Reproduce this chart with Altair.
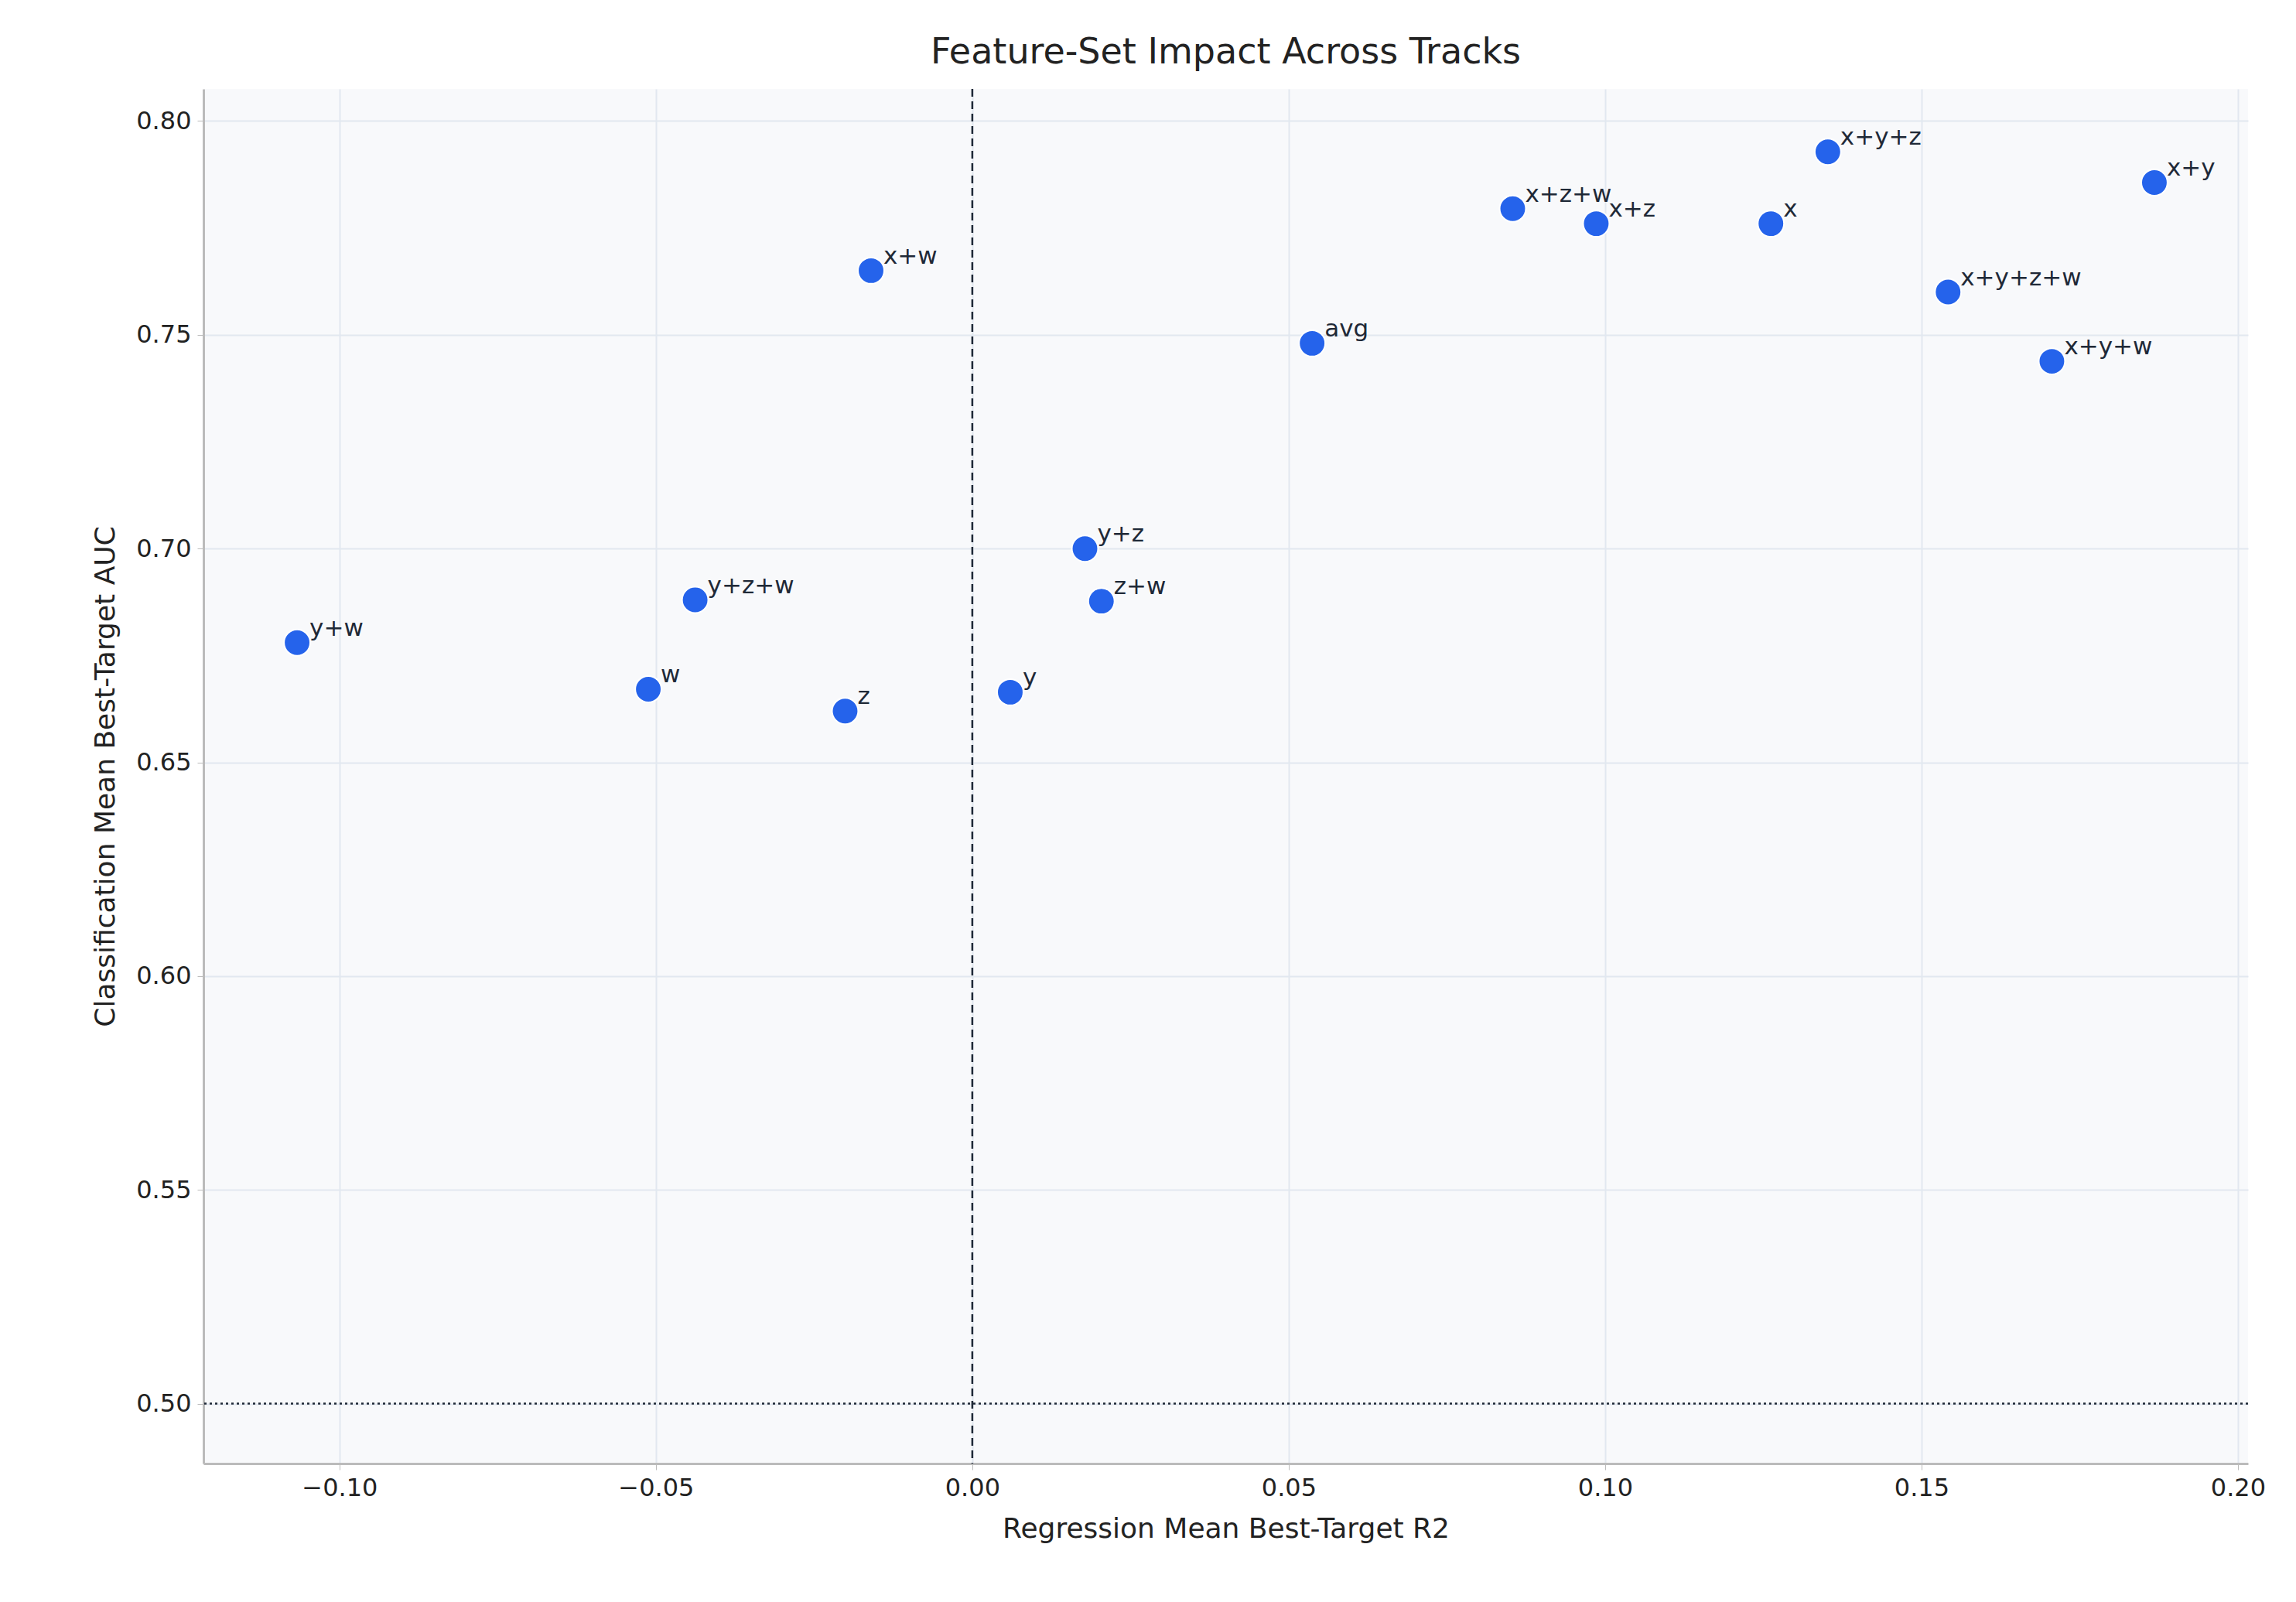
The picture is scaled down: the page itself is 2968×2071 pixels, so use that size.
import altair as alt
import pandas as pd

labels = ["x+y+z", "x+y", "x+z+w", "x+z", "x", "x+w", "x+y+z+w", "avg", "x+y+w",
          "y+z", "y+z+w", "z+w", "y+w", "w", "y", "z"]
reg_r2 = [0.1352, 0.1868, 0.0854, 0.0986, 0.1262, -0.0160, 0.1542, 0.0537, 0.1706,
          0.0178, -0.0438, 0.0204, -0.1067, -0.0512, 0.0060, -0.0201]
cls_auc = [0.7928, 0.7856, 0.7795, 0.7760, 0.7760, 0.7650, 0.7600, 0.7480, 0.7438,
           0.7000, 0.6880, 0.6877, 0.6780, 0.6671, 0.6664, 0.6620]
x_ticks = [-0.10, -0.05, 0.00, 0.05, 0.10, 0.15, 0.20]
y_ticks = [0.50, 0.55, 0.60, 0.65, 0.70, 0.75, 0.80]

df = pd.DataFrame({"label": labels, "r2": reg_r2, "auc": cls_auc})

FONT = "DejaVu Sans"
INK = "#1f2937"

x_enc = alt.X(
    "r2:Q",
    title="Regression Mean Best-Target R2",
    scale=alt.Scale(domain=[-0.1215, 0.2016], nice=False, zero=False),
    axis=alt.Axis(values=x_ticks, format=".2f"),
)
y_enc = alt.Y(
    "auc:Q",
    title="Classification Mean Best-Target AUC",
    scale=alt.Scale(domain=[0.486, 0.8075], nice=False, zero=False),
    axis=alt.Axis(values=y_ticks, format=".2f"),
)

base = alt.Chart(df)
points = base.mark_point(filled=True, size=1150, color="#2563eb", opacity=1,
                         stroke="white", strokeWidth=2).encode(x=x_enc, y=y_enc)
texts = base.mark_text(align="left", baseline="bottom", dx=16, dy=-2, fontSize=31,
                       font=FONT, color=INK).encode(x="r2:Q", y="auc:Q", text="label:N")

vline = alt.Chart(pd.DataFrame({"r2": [0.0]})).mark_rule(
    color=INK, strokeDash=[10, 6], strokeWidth=2.5).encode(x="r2:Q")
hline = alt.Chart(pd.DataFrame({"auc": [0.5]})).mark_rule(
    color=INK, strokeDash=[3, 4], strokeWidth=2.5).encode(y="auc:Q")

chart = (
    alt.layer(vline, hline, points, texts)
    .properties(
        width=2643, height=1777,
        title=alt.TitleParams("Feature-Set Impact Across Tracks", fontSize=46,
                              font=FONT, fontWeight="normal", color="#222222", offset=22),
        background="white",
        padding={"left": 110, "top": 36, "right": 20, "bottom": 20},
    )
    .configure_view(fill="#f8f9fb", stroke=None)
    .configure_axis(
        labelFont=FONT, titleFont=FONT, labelFontSize=32, titleFontSize=36,
        titleFontWeight="normal", labelColor="#222222", titleColor="#222222",
        gridColor="#e2e8f0", gridWidth=2, domainColor="#bbbbbb", domainWidth=3,
        tickColor="#bbbbbb", tickSize=8, labelPadding=8, titlePadding=20,
    )
)

chart.save("out.html", embed_options={"renderer": "svg", "actions": False})
